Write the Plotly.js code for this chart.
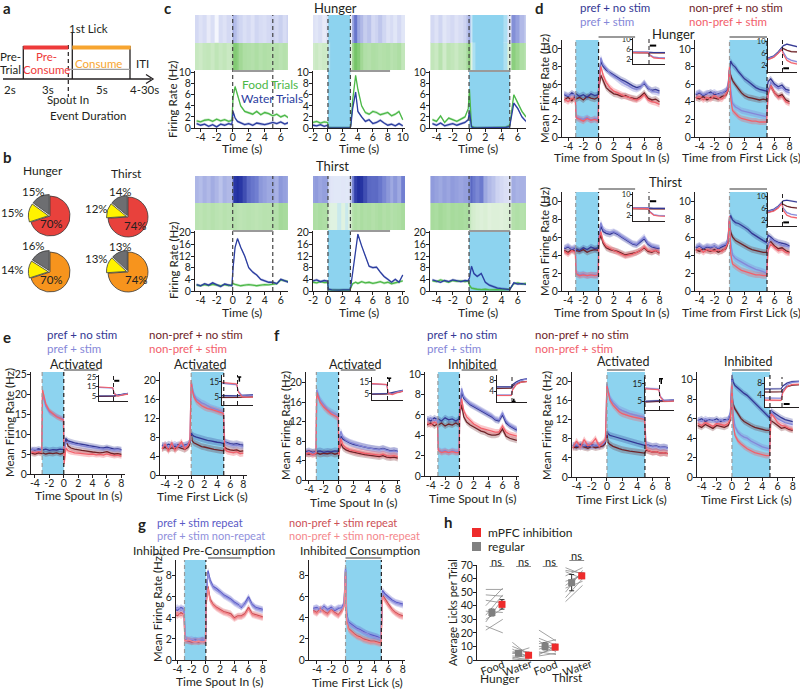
<!DOCTYPE html>
<html>
<head>
<meta charset="utf-8">
<script src="https://cdn.plot.ly/plotly-3.0.1.min.js"></script>
<style>html,body{margin:0;padding:0;background:#fff}#chart{width:800px;height:693px}</style>
</head>
<body>
<div id="chart"></div>
<script>
// ================= DATA =================
// panel b – pies (main / yellow / gray, %)
const pieHungerPre = [70, 15, 15];
const pieThirstPre = [74, 12, 14];
const pieHungerCon = [70, 14, 16];
const pieThirstCon = [74, 13, 13];

// panel c – example neurons (Hz)
const tC  = [-4.5,-4,-3.5,-3,-2.5,-2,-1.5,-1,-0.5,-0.1,0.05,0.3,0.6,1,1.5,2,2.5,3,3.5,4,4.5,5,5.5,6,6.5,7];
const tC2 = [-2,-1.5,-1,-0.5,-0.05,0.05,0.5,1,1.5,2,2.5,2.95,3.05,3.3,3.7,4,4.5,5,5.5,6,6.5,7,7.5,8,8.5,9,9.5,10];
const c1Food  = [1.3,1.1,1.4,1.5,1.2,1.6,1.3,1.5,1.2,1.4,5.5,7.5,6.0,4.0,3.0,2.8,2.5,3.0,2.4,2.8,2.6,2.2,2.5,2.0,2.3,1.8];
const c1Water = [0.8,0.5,0.7,0.3,0.6,0.2,0.7,0.5,0.8,0.6,3.0,1.8,1.2,0.9,0.6,0.8,0.5,0.9,0.7,0.6,0.8,1.0,0.8,1.1,0.7,1.0];
const c2Food  = [1.0,1.2,0.9,1.1,1.0,0.1,0,0,0,0,0,0,0.5,5.0,9.5,7.0,4.0,2.8,2.5,3.0,2.8,2.4,2.6,2.8,2.2,2.5,3.0,1.5];
const c2Water = [0.5,0.4,0.6,0.3,0.5,0,0,0,0,0,0,0,0.3,3.5,6.5,3.0,2.0,1.2,1.5,0.8,1.0,1.4,0.9,0.5,0.7,0.4,0.8,0.4];
const c3Food  = [1.5,1.2,2.2,1.0,1.8,1.5,1.2,1.6,2.0,3.5,7.0,0.3,0.1,0,0,0,0,0,0,0,0.1,0.5,6.0,4.5,3.0,2.0];
const c3Water = [0.8,0.5,0.9,0.4,0.6,0.8,0.5,0.7,1.0,1.5,3.0,0.2,0,0,0,0,0,0,0,0,0.1,0.3,4.5,3.5,2.0,1.2];
const c4Food  = [2.0,1.8,2.2,1.9,2.3,2.0,1.8,2.2,1.9,2.1,2.5,2.3,2.0,1.8,2.0,2.2,2.0,1.8,2.0,2.2,2.1,2.4,2.5,3.8,3.5,3.2];
const c4Water = [2.2,1.8,2.5,2.0,2.8,2.2,1.5,2.4,2.0,1.8,8.0,15.0,18.0,15.0,12.0,8.0,6.5,5.5,4.0,3.5,3.0,3.0,2.5,4.0,3.5,3.0];
const c5Food  = [3.0,2.8,3.2,2.9,3.0,0.5,0.3,0.3,0.2,0.3,0.2,0.3,1.0,2.5,3.0,2.6,3.2,2.8,3.0,2.6,2.9,3.2,2.7,3.0,2.5,2.8,3.0,3.5];
const c5Water = [3.5,3.8,3.2,3.6,3.4,0.6,0.4,0.3,0.3,0.4,0.3,0.4,1.5,6.0,14.0,19.5,15.5,12.0,8.5,8.0,8.2,6.5,5.0,4.0,3.0,4.0,3.0,5.5];
const c6Food  = [3.5,3.2,3.8,3.4,3.0,3.6,3.3,3.5,3.2,3.4,2.0,1.0,0.8,0.6,0.5,0.6,0.4,0.5,0.5,0.4,0.5,0.6,2.5,2.8,2.4,2.6];
const c6Water = [3.8,3.4,3.0,3.6,3.2,3.8,3.5,3.2,3.6,3.5,4.5,8.5,6.0,5.0,6.0,3.0,2.0,1.5,1.0,0.8,0.6,0.5,2.8,2.4,2.5,2.3];

// population means (Hz): time axes
const tSpout = [-4.5,-4,-3.5,-3.05,-2.95,-2.5,-2,-1.5,-1,-0.5,-0.05,0.05,0.3,0.6,1,1.5,2,2.5,3,3.5,4,4.5,5,5.5,6,6.5,7,7.5,8];
const tLick  = [-4.5,-4,-3.5,-3,-2.5,-2,-1.5,-1,-0.5,-0.2,0,0.15,0.4,0.8,1.2,1.6,2,2.5,3,3.5,4,4.5,4.95,5.15,5.5,6,6.5,7,7.5,8];
const tInset = [-1,-0.6,-0.3,-0.05,0.05,0.3,0.6,1];

// panel d – Hunger spout-in
const d1PrefNo   = [4.8,4.6,5.0,4.7,4.9,4.6,4.8,4.5,4.9,4.7,4.8,6.0,8.6,8.0,7.6,7.3,7.0,6.8,6.5,6.3,6.0,5.8,5.6,5.7,6.1,5.5,5.3,5.4,5.2];
const d1PrefStim = [4.9,4.7,4.8,4.8,2.3,2.1,2.0,2.2,1.9,2.1,2.0,6.5,9.0,8.2,7.8,7.2,6.9,6.6,6.2,6.0,5.8,5.5,5.4,5.6,6.2,5.6,5.2,5.1,5.0];
const d1NonNo    = [4.2,4.5,4.1,4.6,4.3,4.5,4.2,4.6,4.4,4.3,4.5,5.5,7.0,6.3,5.6,5.2,4.9,4.8,4.6,4.7,4.5,4.4,4.3,4.6,5.0,4.4,4.2,4.3,4.0];
const d1NonStim  = [4.3,4.0,4.4,4.2,2.2,2.0,1.8,2.1,1.9,2.0,1.8,6.0,8.0,7.0,6.2,5.6,5.2,5.0,4.8,4.6,4.5,4.3,4.2,4.4,4.8,4.2,4.0,3.9,3.7];
// panel d – Hunger first lick
const d2PrefNo   = [4.8,5.0,4.7,4.9,5.1,4.8,4.9,5.0,5.2,5.6,7.5,8.6,8.2,7.9,7.4,7.0,6.6,6.3,5.9,5.6,5.4,5.3,5.2,6.3,6.6,6.0,5.7,5.9,5.4,5.3];
const d2PrefStim = [4.9,5.1,4.8,5.0,4.9,5.1,4.8,5.0,5.3,5.8,7.8,5.5,3.8,3.4,3.2,3.0,2.9,2.8,2.7,2.6,2.5,2.4,2.3,5.0,6.2,5.8,5.5,5.6,5.2,5.0];
const d2NonNo    = [4.5,4.3,4.6,4.2,4.5,4.4,4.3,4.6,4.7,5.2,7.6,7.0,6.4,5.9,5.4,5.0,4.7,4.5,4.4,4.3,4.2,4.3,4.2,5.4,5.8,5.0,4.6,4.8,4.2,4.0];
const d2NonStim  = [4.4,4.6,4.2,4.5,4.3,4.7,4.4,4.3,4.8,5.3,8.0,4.5,3.0,2.6,2.3,2.1,2.0,1.9,1.8,1.8,1.7,1.7,1.7,4.8,5.8,5.0,4.5,4.6,4.0,3.8];
// panel d – Thirst spout-in
const d3PrefNo   = [4.7,4.9,4.6,4.8,4.7,4.5,4.8,4.6,4.9,4.7,4.8,6.0,7.2,6.6,6.4,6.3,6.5,6.3,6.0,5.7,5.5,5.2,5.1,5.4,5.8,5.2,4.9,4.8,4.7];
const d3PrefStim = [4.8,5.0,4.7,4.9,2.0,1.8,1.9,1.7,1.8,1.8,1.7,6.2,7.6,6.9,6.6,6.5,6.6,6.4,6.1,5.8,5.6,5.3,5.2,5.6,6.0,5.3,5.0,4.9,4.8];
const d3NonNo    = [4.5,4.3,4.6,4.4,4.5,4.4,4.6,4.3,4.5,4.6,4.5,5.5,6.2,5.3,4.8,4.6,4.5,4.4,4.2,4.0,4.1,4.2,4.3,4.5,4.8,4.4,4.3,4.5,4.2];
const d3NonStim  = [4.4,4.1,4.5,4.3,1.9,1.7,1.8,1.7,1.8,1.7,1.8,5.8,6.6,5.5,5.0,4.7,4.5,4.3,4.1,3.9,4.0,4.1,4.3,4.5,4.9,4.5,4.4,4.5,4.3];
// panel d – Thirst first lick
const d4PrefNo   = [4.8,5.0,4.7,4.9,4.8,5.0,4.7,4.9,5.1,5.6,8.0,8.4,7.9,7.6,7.5,7.3,7.1,6.8,6.4,6.1,5.8,5.6,5.4,6.2,6.0,5.6,5.4,5.3,5.2,5.0];
const d4PrefStim = [4.9,5.1,4.8,5.0,4.9,5.0,4.8,5.1,5.2,5.8,8.2,5.5,4.0,3.6,3.4,3.2,3.0,2.8,2.6,2.4,2.3,2.1,2.0,5.2,5.8,5.5,5.3,5.1,5.0,4.9];
const d4NonNo    = [4.6,4.4,4.7,4.5,4.4,4.6,4.3,4.5,4.7,5.3,7.8,6.6,6.0,5.6,5.4,5.2,5.0,4.8,4.6,4.5,4.4,4.3,4.3,5.3,5.5,5.0,4.7,4.8,4.5,4.3];
const d4NonStim  = [4.5,4.7,4.3,4.6,4.5,4.4,4.6,4.4,4.8,5.4,8.3,4.2,3.0,2.7,2.5,2.3,2.2,2.0,1.9,1.8,1.8,1.7,1.7,4.6,5.2,4.8,4.5,4.6,4.3,4.2];

// panel e – activated
const e1PrefNo   = [6.2,6.0,6.3,6.1,6.0,6.2,5.9,6.1,6.0,6.2,6.1,7.0,8.8,8.3,8.0,7.8,7.6,7.5,7.3,7.1,7.0,6.8,6.6,6.5,6.7,6.4,6.2,6.3,6.1];
const e1PrefStim = [6.0,6.2,5.8,6.0,20.0,17.0,15.5,15.0,14.5,14.0,13.8,5.5,8.0,7.8,7.6,7.4,7.2,7.0,6.9,6.7,6.6,6.5,6.3,6.2,6.4,6.1,6.0,6.1,5.9];
const e1NonNo    = [5.2,5.0,5.3,5.1,5.3,5.0,5.2,5.1,5.3,5.0,5.2,6.5,8.5,7.0,6.5,6.2,6.0,5.9,5.8,5.6,5.5,5.4,5.3,5.4,5.6,5.2,5.0,5.1,4.9];
const e1NonStim  = [5.5,5.3,5.6,5.4,21.0,17.5,15.8,15.0,14.3,13.9,13.5,2.5,6.5,5.8,5.5,5.3,5.2,5.1,5.0,4.9,5.0,4.8,4.9,4.7,5.0,4.8,4.6,4.7,4.5];
const e2PrefNo   = [6.3,6.0,6.5,6.2,6.0,6.4,6.1,6.3,6.5,7.0,9.0,8.5,8.2,8.0,7.8,7.6,7.5,7.3,7.2,7.0,6.9,6.8,6.6,7.0,6.8,6.6,6.5,6.6,6.4,6.3];
const e2PrefStim = [6.0,6.4,5.9,6.2,6.5,6.0,6.3,6.1,6.4,7.0,19.5,18.5,17.0,16.0,15.5,15.2,15.0,14.6,14.2,14.0,13.8,13.5,13.3,7.0,6.6,6.4,6.2,6.3,6.1,6.0];
const e2NonNo    = [5.6,5.8,5.4,5.7,5.5,5.9,5.6,5.4,5.8,6.5,9.0,7.2,6.8,6.5,6.3,6.0,5.9,5.7,5.5,5.4,5.3,5.2,5.1,5.8,5.5,5.3,5.2,5.3,5.0,5.1];
const e2NonStim  = [5.5,6.5,5.0,6.8,5.2,6.0,7.0,5.5,6.2,7.2,20.0,18.0,16.5,15.5,15.0,14.6,14.3,14.0,13.9,13.7,13.5,13.2,13.0,5.5,5.0,4.8,4.7,4.9,4.5,4.6];

// panel f
const f1PrefNo   = [5.8,6.0,5.7,5.9,5.8,6.0,5.7,5.9,5.8,6.0,5.9,7.0,9.0,8.4,8.0,7.6,7.3,7.1,6.9,6.8,6.6,6.5,6.4,6.3,6.5,6.2,6.0,6.1,5.9];
const f1PrefStim = [5.6,5.8,5.5,5.7,18.5,16.5,15.5,14.5,14.0,13.5,13.2,7.5,10.0,8.8,8.2,7.8,7.5,7.2,7.0,6.8,6.6,6.5,6.3,6.2,6.4,6.1,5.9,6.0,5.8];
const f1NonNo    = [5.5,5.3,5.6,5.4,5.6,5.3,5.5,5.4,5.6,5.3,5.5,6.3,7.5,6.6,6.2,5.9,5.7,5.5,5.3,5.2,5.1,5.0,4.9,4.8,5.0,4.7,4.6,4.7,4.5];
const f1NonStim  = [5.4,5.6,5.2,5.5,18.0,16.0,15.0,14.2,13.6,13.2,12.8,5.0,8.5,7.2,6.6,6.2,6.0,5.8,5.7,5.5,5.4,5.3,5.2,5.1,5.3,5.0,4.9,5.0,4.8];
const f2PrefNo   = [5.6,5.4,5.7,5.5,5.6,5.4,5.7,5.5,5.6,5.4,5.6,6.5,8.2,7.6,7.3,7.0,6.8,6.6,6.4,6.2,6.0,5.8,5.5,5.4,6.0,5.2,4.9,4.7,4.5];
const f2PrefStim = [5.5,5.7,5.4,5.6,2.6,2.4,2.5,2.3,2.5,2.4,2.4,6.8,8.6,7.8,7.4,7.1,6.9,6.7,6.5,6.3,6.1,5.9,5.6,5.5,6.2,5.4,5.0,4.8,4.6];
const f2NonNo    = [5.0,5.2,4.9,5.1,5.0,5.2,4.9,5.1,5.0,5.2,5.0,6.0,7.0,5.8,5.3,5.0,4.8,4.6,4.4,4.3,4.1,4.0,4.0,4.1,4.6,3.9,3.7,3.6,3.5];
const f2NonStim  = [5.2,5.0,5.3,5.1,2.5,2.3,2.4,2.3,2.4,2.3,2.3,6.3,7.6,6.4,5.8,5.4,5.1,4.9,4.7,4.6,4.5,4.4,4.3,4.3,4.9,4.3,4.1,4.0,3.9];
const f3PrefNo   = [6.6,6.4,6.8,6.5,6.3,6.7,6.5,6.6,6.8,7.4,9.5,9.0,8.7,8.5,8.3,8.1,7.9,7.6,7.4,7.2,7.0,6.8,6.6,6.8,6.6,6.4,6.5,6.2,6.3,6.1];
const f3PrefStim = [6.5,6.8,6.3,6.6,6.9,6.4,6.7,6.5,6.9,7.5,19.5,18.0,16.5,15.5,14.8,14.2,13.9,13.5,13.2,13.0,12.8,12.6,12.4,6.8,6.5,6.3,6.4,6.1,6.2,6.0];
const f3NonNo    = [6.3,6.1,6.5,6.2,6.0,6.4,6.1,6.3,6.5,7.0,9.0,7.2,6.8,6.4,6.1,5.9,5.7,5.5,5.4,5.3,5.2,5.1,5.0,5.6,5.4,5.2,5.3,5.0,5.1,4.9];
const f3NonStim  = [6.0,7.5,6.2,7.8,6.5,7.0,8.0,6.4,7.2,7.8,19.0,17.5,16.0,15.0,14.2,13.6,13.2,12.9,12.7,12.5,12.4,12.2,12.0,5.8,5.5,5.2,5.3,5.0,5.1,4.9];
const f4PrefNo   = [5.8,6.0,5.7,5.9,5.8,6.0,5.7,5.9,5.9,6.5,10.5,9.8,9.4,9.1,8.8,8.6,8.4,8.0,7.6,7.2,6.8,6.4,6.1,6.8,6.6,6.3,6.1,5.9,5.8,5.7];
const f4PrefStim = [5.9,5.7,6.0,5.8,5.9,5.6,5.9,5.7,6.0,6.6,10.0,6.5,5.2,4.6,4.3,4.1,4.0,3.7,3.5,3.3,3.1,3.0,2.9,6.8,6.4,6.0,5.8,5.6,5.5,5.4];
const f4NonNo    = [5.3,5.1,5.4,5.2,5.0,5.3,5.2,5.1,5.3,5.9,8.5,7.5,7.0,6.5,6.0,5.7,5.5,5.3,5.1,5.0,4.9,4.8,4.8,5.8,5.6,5.3,5.0,5.1,4.9,4.8];
const f4NonStim  = [5.5,5.3,5.6,5.4,5.2,5.5,5.4,5.3,5.5,6.0,9.5,5.5,4.3,3.7,3.4,3.1,2.9,2.7,2.5,2.4,2.3,2.2,2.2,6.5,6.2,5.6,5.3,5.2,5.0,4.9];

// panel g
const g1PrefRep = [4.9,4.7,5.0,4.8,2.0,1.9,1.8,1.9,1.8,1.9,1.8,6.0,8.5,7.6,7.0,6.8,6.5,6.2,6.0,5.8,5.5,5.3,5.0,5.4,6.0,5.3,5.0,4.9,4.8];
const g1PrefNon = [4.8,5.0,4.7,4.9,2.1,1.9,2.0,1.8,1.9,1.9,1.9,6.2,8.2,7.4,6.9,6.6,6.4,6.1,5.9,5.7,5.4,5.2,5.1,5.3,5.8,5.2,4.9,4.8,4.7];
const g1NonRep  = [4.4,4.2,4.5,4.3,1.9,1.8,1.7,1.8,1.7,1.9,1.7,5.5,7.0,5.8,5.3,5.0,4.8,4.6,4.5,4.4,4.0,4.2,4.2,4.4,5.0,4.4,4.3,4.2,4.1];
const g1NonNon  = [4.3,4.5,4.2,4.4,1.8,1.9,1.8,1.7,1.8,1.7,1.8,5.3,6.8,5.6,5.2,4.9,4.7,4.5,4.4,4.2,3.9,4.1,4.1,4.3,4.8,4.3,4.2,4.1,4.0];
const g2PrefRep = [4.9,5.0,4.7,5.1,4.8,5.0,4.7,4.9,5.0,5.4,8.8,4.5,3.6,3.4,3.2,3.0,2.9,2.7,2.5,2.4,2.3,2.2,2.0,6.6,6.3,6.0,5.7,5.5,5.4,5.3];
const g2PrefNon = [4.8,4.9,4.8,5.0,4.7,4.9,4.8,5.0,4.9,5.3,8.6,4.3,3.5,3.3,3.1,2.9,2.8,2.6,2.5,2.3,2.2,2.1,2.0,6.4,6.1,5.8,5.6,5.4,5.3,5.2];
const g2NonRep  = [4.7,4.5,4.9,4.6,4.4,4.8,4.5,4.3,4.7,5.2,8.5,3.8,3.0,2.7,2.5,2.3,2.2,2.0,1.9,1.8,1.8,1.7,1.6,6.2,5.8,5.3,4.8,4.5,4.3,4.2];
const g2NonNon  = [4.6,4.4,4.8,4.5,4.3,4.7,4.4,4.2,4.6,5.1,8.3,3.6,2.9,2.6,2.4,2.2,2.1,1.9,1.8,1.7,1.7,1.6,1.5,6.0,5.6,5.1,4.7,4.4,4.2,4.1];

// insets [prefNo, prefStim, nonNo, nonStim]
const insD1 = [[4.8,4.9,4.8,4.9,4.8,4.7,4.8,4.7],[4.9,4.8,4.9,4.8,3.8,2.8,2.6,2.5],[4.6,4.5,4.6,4.5,4.6,4.5,4.6,4.5],[4.7,4.6,4.7,4.6,3.5,2.5,2.3,2.2]];
const insD2 = [[4.5,5.2,6.5,7.8,8.5,9.0,8.6,8.2],[4.3,5.0,6.3,7.6,6.5,4.5,3.8,3.3],[4.2,4.9,6.2,7.5,7.6,7.0,6.6,6.5],[4.0,4.8,6.0,7.3,5.8,3.8,3.0,2.6]];
const insD3 = [[4.9,5.0,4.9,5.0,4.9,4.8,4.9,4.8],[5.0,4.9,5.0,4.9,3.6,2.4,2.1,2.0],[4.7,4.6,4.7,4.6,4.7,4.6,4.7,4.6],[4.8,4.7,4.8,4.7,3.4,2.2,1.9,1.8]];
const insD4 = [[5.0,5.6,6.6,8.0,8.4,8.6,8.3,8.0],[4.8,5.4,6.4,7.8,6.0,4.5,3.9,3.6],[4.6,5.2,6.2,7.6,7.2,6.6,6.2,6.0],[4.5,5.0,6.0,7.5,5.2,3.6,3.0,2.7]];
const insE1 = [[5.2,5.0,5.3,5.1,5.4,6.2,7.2,8.0],[14.0,13.8,13.6,13.5,8.0,5.5,6.8,7.8],[4.8,4.7,4.9,4.8,5.0,5.8,6.8,7.4],[14.5,14.2,14.0,13.8,7.5,5.0,6.2,7.2]];
const insE2 = [[6.0,5.8,6.0,5.9,6.1,6.2,6.3,6.5],[14.0,13.6,13.3,13.0,9.0,6.0,5.8,6.0],[4.8,4.7,4.9,4.8,4.9,5.0,5.2,5.3],[14.5,14.2,13.8,13.5,8.5,5.2,5.0,5.1]];
const insF1 = [[5.0,5.1,5.0,5.2,5.4,6.2,7.2,8.0],[13.2,13.0,12.8,12.6,6.0,5.0,6.5,7.8],[4.8,4.9,4.8,4.9,5.0,5.6,6.5,7.2],[13.5,13.2,13.0,12.8,5.5,4.5,6.0,7.2]];
const insF2 = [[5.6,5.5,5.6,5.6,6.5,7.5,8.2,8.6],[2.6,2.5,2.6,2.6,5.0,7.0,8.0,8.5],[5.0,5.1,5.0,5.1,6.0,6.8,7.4,7.6],[2.4,2.3,2.4,2.4,4.6,6.5,7.3,7.6]];
const insF3 = [[5.0,5.1,5.0,5.1,5.2,5.4,5.6,5.8],[12.6,12.4,12.2,12.0,8.0,5.6,5.5,5.8],[4.6,4.7,4.6,4.7,4.8,5.0,5.1,5.3],[12.2,12.0,11.9,11.7,7.5,5.0,5.0,5.2]];
const insF4 = [[6.0,6.1,6.0,6.1,7.0,8.0,8.5,8.6],[3.0,2.9,3.0,2.9,5.5,7.5,8.2,8.4],[5.0,5.1,5.0,5.1,5.8,6.8,7.3,7.4],[2.3,2.2,2.3,2.2,4.8,6.8,7.5,7.6]];

// panel h – licks per trial
const hCats = ['Food','Water','Food','Water'];
const hRegMean = [35, 5, 10, 57];
const hRegSem  = [2.5, 1.5, 2.5, 6];
const hInhMean = [41, 3.5, 9.5, 62];
const hInhSem  = [3.5, 1, 2, 2];
const hRegMice = [[22,25,28,30,33,36,40,44,48,52],[0,1,2,3,5,6,8,10,13,5],[3,5,6,8,10,12,14,16,22,4],[43,46,50,53,55,58,62,65,68,66]];
const hInhMice = [[30,20,45,38,48,35,53,42,47,52],[1,4,0,2,3,6,2,5,3,9],[5,8,4,12,9,15,6,11,14,10],[55,60,66,58,64,62,68,60,63,64]];

// ================= HELPERS =================
const W=800,H=693;
const fx=p=>p/W, fy=p=>1-p/H;
const traces=[], shapes=[], annotations=[];
const INK='#231f20', BLUE='#8dd3ef', GRAYBAR='#9a9a9a';
const NAVY='#343894', LAV='#8587d8', MAR='#6e2328', PINK='#f2606b';
const NAVYb='rgba(52,56,148,0.28)', LAVb='rgba(133,135,216,0.35)', MARb='rgba(110,35,40,0.28)', PINKb='rgba(242,96,107,0.35)';
const GREEN='#4cb848', WBLUE='#2b3da0';
const FONT='Lato, "Open Sans", sans-serif';
const layout={width:W,height:H,margin:{l:0,r:0,t:0,b:0,pad:0},showlegend:false,hovermode:false,
  paper_bgcolor:'#ffffff',plot_bgcolor:'rgba(0,0,0,0)',
  font:{family:FONT,size:11,color:INK},shapes,annotations};
let nAx=0;
function axes(rect,xr,yr,o){
  o=o||{}; nAx++; const s=nAx===1?'':String(nAx);
  const base={showgrid:false,zeroline:false,showline:true,linecolor:INK,linewidth:1,ticks:'outside',tickangle:0,
    ticklen:o.tl||3,tickwidth:1,tickcolor:INK,tickfont:{size:o.fs||10.5,color:INK,family:FONT},fixedrange:true,tickmode:'array'};
  const xt=o.xt||[], yt=o.yt||[];
  const xa=Object.assign({},base,{domain:[fx(rect[0]),fx(rect[2])],range:xr,anchor:'y'+s,tickvals:xt,ticktext:xt.map(String),
    showticklabels:o.xl!==false,ticklabelstandoff:-4},o.xo||{});
  const ya=Object.assign({},base,{domain:[fy(rect[3]),fy(rect[1])],range:yr,anchor:'x'+s,tickvals:yt,ticktext:yt.map(String),
    showticklabels:o.yl!==false,ticklabelstandoff:-2},o.yo||{});
  if(o.hide){xa.visible=false;ya.visible=false;}
  layout['xaxis'+s]=xa; layout['yaxis'+s]=ya;
  return {x:'x'+s,y:'y'+s,rect,xr,yr};
}
function txt(s,px,py,o){
  o=o||{};
  annotations.push(Object.assign({text:s,xref:'paper',yref:'paper',x:fx(px),y:fy(py),xanchor:'center',yanchor:'middle',
    showarrow:false,font:{size:o.size||12,color:o.color||INK,family:FONT}},o.extra||{}));
}
function region(ax,x0,x1,pt,pb){shapes.push({type:'rect',layer:'below',xref:ax.x,yref:'paper',x0,x1,y0:fy(pb),y1:fy(pt),fillcolor:BLUE,line:{width:0}});}
function vdash(ax,xv,pt,pb,col,w){shapes.push({type:'line',xref:ax.x,yref:'paper',x0:xv,x1:xv,y0:fy(pb),y1:fy(pt),line:{color:col||INK,width:w||1.2,dash:'4px,3px'}});}
function hbar(ax,x0,x1,py,col,w){shapes.push({type:'line',xref:ax.x,yref:'paper',x0,x1,y0:fy(py),y1:fy(py),line:{color:col||GRAYBAR,width:w||2}});}
function pline(x0,y0,x1,y1,col,w,dash){shapes.push({type:'line',xref:'paper',yref:'paper',x0:fx(x0),x1:fx(x1),y0:fy(y0),y1:fy(y1),line:{color:col,width:w,dash:dash||'solid'}});}
function band(ax,t,v,fill,sem){
  const up=v.map(a=>a+sem), lo=v.map(a=>Math.max(0,a-sem));
  traces.push({type:'scatter',mode:'lines',x:t.concat(t.slice().reverse()),y:up.concat(lo.slice().reverse()),
    fill:'toself',fillcolor:fill,line:{width:0},xaxis:ax.x,yaxis:ax.y,hoverinfo:'skip'});
}
function line(ax,t,v,col,w){traces.push({type:'scatter',mode:'lines',x:t,y:v,line:{color:col,width:w||1.3},xaxis:ax.x,yaxis:ax.y,hoverinfo:'skip'});}
// S = [prefNo, prefStim, nonNo, nonStim]
function four(ax,t,S,sem,w,cols,bands){
  cols=cols||[NAVY,LAV,MAR,PINK]; bands=bands||[NAVYb,LAVb,MARb,PINKb];
  const order=[2,0,1,3];
  order.forEach(i=>band(ax,t,S[i],bands[i],sem));
  order.forEach(i=>line(ax,t,S[i],cols[i],w));
}
function inset(rect,yr,yt,S,sem,fs){
  const a=axes(rect,[-1,1],yr,{yt,xl:false,fs:fs||8.5,tl:2});
  traces.push({type:'scatter',mode:'lines',x:[-1,1,1,-1],y:[yr[0],yr[0],yr[1],yr[1]],fill:'toself',fillcolor:'#ffffff',line:{width:0},xaxis:a.x,yaxis:a.y,hoverinfo:'skip'});
  vdash(a,0,rect[1],rect[3],INK,1);
  four(a,tInset,S,sem,1.1);
  return a;
}
function tmark(a,xv,y0,y1,cap){
  shapes.push({type:'line',xref:a.x,yref:a.y,x0:xv,x1:xv,y0,y1,line:{color:'#000',width:1.5}});
  shapes.push({type:'line',xref:a.x,yref:a.y,x0:xv-0.12,x1:xv+0.12,y0:cap,y1:cap,line:{color:'#000',width:1.5}});
}
function hmark(a,x0,x1,yv){shapes.push({type:'line',xref:a.x,yref:a.y,x0,x1,y0:yv,y1:yv,line:{color:'#000',width:2}});}

// ================= PANEL a =================
pline(3,79,151,79,INK,1.3);
shapes.push({type:'path',xref:'paper',yref:'paper',path:`M ${fx(146)},${fy(74.5)} L ${fx(153)},${fy(79)} L ${fx(146)},${fy(83.5)}`,line:{color:INK,width:1.3}});
pline(23.3,46,23.3,79,INK,1.3);
pline(130,46,130,79,INK,1.3);
pline(72.3,32,72.3,79,INK,1.3);
pline(68.3,45,68.3,97,INK,1.2,'4px,3px');
pline(23.3,47.5,68.3,47.5,'#ee3a3a',4);
pline(72.3,47.5,130.7,47.5,'#f7a530',4);
pline(68.3,69.3,130,69.3,'#a0a0a0',1.3);
txt('Pre-',10,57,{size:11.5}); txt('Trial',10,70,{size:11.5});
txt('Pre-',46.7,57,{size:11.5,color:'#ee3a3a'}); txt('Consume',46.7,70,{size:11.5,color:'#ee3a3a'});
txt('Consume',98.3,63,{size:11.5,color:'#f7a530'});
txt('ITI',142.7,63,{size:11.5});
txt('1st Lick',88,29,{size:11.5});
txt('2s',10,89,{size:11.5}); txt('3s',48,89,{size:11.5}); txt('5s',101.7,89,{size:11.5}); txt('4-30s',144,89,{size:11.5});
txt('Spout In',68.3,100,{size:11.5});
txt('Event Duration',88.3,115,{size:11.5});

// ================= PANEL b =================
const pieCols1=['#e8413c','#fff200','#6d6e71'], pieCols2=['#f7941d','#fff200','#6d6e71'];
function pie(vals,cols,cx,cy,r,labPos){
  const h=r*1.08;
  traces.push({type:'pie',values:vals,marker:{colors:cols,line:{color:'#3a3a3a',width:0.8}},sort:false,direction:'clockwise',rotation:0,
    pull:[0,0.08,0.08],textinfo:'none',hoverinfo:'skip',domain:{x:[fx(cx-h),fx(cx+h)],y:[fy(cy+h),fy(cy-h)]}});
  vals.forEach((v,i)=>txt(v+'%',labPos[i][0],labPos[i][1],{size:11.5}));
}
txt('Hunger',43.3,171,{size:12}); txt('Thirst',126.7,173,{size:12});
pie(pieHungerPre,pieCols1,50,216,20,[[51.7,223.3],[12.7,213],[33,191.7]]);
pie(pieThirstPre,pieCols1,128,217,20,[[135,225],[96.7,208.3],[120,191.7]]);
pie(pieHungerCon,pieCols2,50,272,20,[[51.7,280],[12.7,269.3],[33.3,246]]);
pie(pieThirstCon,pieCols2,128,272,20,[[136.7,280],[96.7,258.3],[120,246.7]]);

// ================= PANEL c =================
const rasterBlue=[[0,'rgba(255,255,255,0)'],[0.02,'rgba(228,232,248,1)'],[0.1,'rgba(184,192,234,1)'],[0.35,'rgba(111,125,208,1)'],[1,'rgba(34,48,160,1)']];
const rasterGreen=[[0,'rgba(255,255,255,0)'],[0.02,'rgba(226,242,222,1)'],[0.1,'rgba(191,229,183,1)'],[0.35,'rgba(142,208,128,1)'],[1,'rgba(76,175,64,1)']];
function cPanel(l,r,rows,xr,xt,yr,yt,t,food,water,stim,ev,bar,sem){
  const ra=axes([l,rows[0],r,rows[1]],xr,[0,2],{hide:true});
  const pa=axes([l,rows[1]+1,r,rows[2]],xr,yr,{xt,yt});
  traces.push({type:'heatmap',x:t,y:[0.5],z:[food],xaxis:ra.x,yaxis:ra.y,colorscale:rasterGreen,zmin:0,zmax:16,showscale:false,hoverinfo:'skip'});
  traces.push({type:'heatmap',x:t,y:[1.5],z:[water],xaxis:ra.x,yaxis:ra.y,colorscale:rasterBlue,zmin:0,zmax:16,showscale:false,hoverinfo:'skip'});
  if(stim) region(pa,stim[0],stim[1],rows[0],rows[2]);
  ev.forEach(e=>vdash(pa,e,rows[0],rows[2],'#444',1.2));
  hbar(pa,bar[0],bar[1],rows[1]+1,GRAYBAR,2);
  band(pa,t,food,'rgba(76,184,72,0.3)',sem); band(pa,t,water,'rgba(43,61,160,0.3)',sem);
  line(pa,t,food,GREEN,1.3); line(pa,t,water,WBLUE,1.3);
  txt('Time (s)',(l+r)/2,rows[2]+21,{size:12});
  return pa;
}
const cTop=[15,70,128], cBot=[176,230,291];
const colA=[195,288,[-4.7,6.9],[-4,-2,0,2,4,6]];
const colB=[313,405,[-2,10.3],[-2,0,2,4,6,8,10]];
const colC=[430,526,[-4.8,7],[-4,-2,0,2,4,6]];
const yTop=[0,10.3], ytTop=[0,2,4,6,8,10], yBot=[0,20.6], ytBot=[0,4,8,12,16,20];
cPanel(colA[0],colA[1],cTop,colA[2],colA[3],yTop,ytTop,tC,c1Food,c1Water,null,[0,5],[0,5],0.25);
cPanel(colB[0],colB[1],cTop,colB[2],colB[3],yTop,ytTop,tC2,c2Food,c2Water,[0,3],[0,3],[3,8.3],0.25);
cPanel(colC[0],colC[1],cTop,colC[2],colC[3],yTop,ytTop,tC,c3Food,c3Water,[0,5],[0,5],[0,5],0.25);
cPanel(colA[0],colA[1],cBot,colA[2],colA[3],yBot,ytBot,tC,c4Food,c4Water,null,[0,5],[0,5],0.45);
cPanel(colB[0],colB[1],cBot,colB[2],colB[3],yBot,ytBot,tC2,c5Food,c5Water,[0,3],[0,3],[3,8.3],0.45);
cPanel(colC[0],colC[1],cBot,colC[2],colC[3],yBot,ytBot,tC,c6Food,c6Water,[0,5],[0,5],[0,5],0.45);
txt('Hunger',335,8,{size:13}); txt('Thirst',332,166,{size:13});
txt('Firing Rate (Hz)',173,100,{size:11.5,extra:{textangle:-90}});
txt('Firing Rate (Hz)',173,261,{size:11.5,extra:{textangle:-90}});
txt('Food Trials',270,84,{size:12,color:GREEN});
txt('Water Trials',272,99,{size:12,color:WBLUE});

// ================= generic population panel =================
function pop(rect,xr,yr,yt,t,S,sem,kind,bar,cols,bands){
  const a=axes(rect,xr,yr,{xt:[-4,-2,0,2,4,6,8],yt});
  if(kind==='spout'){region(a,-3,0,rect[1],rect[3]); vdash(a,-3,rect[1],rect[3],'#9a9a9a',1.2); vdash(a,0,rect[1],rect[3],INK,1.2);}
  else {region(a,0,5,rect[1],rect[3]); vdash(a,0,rect[1],rect[3],'#9a9a9a',1.2); vdash(a,5,rect[1],rect[3],INK,1.2);}
  four(a,t,S,sem,1.3,cols,bands);
  if(bar) hbar(a,bar[0],bar[1],bar[2],GRAYBAR,2);
  return a;
}
function legend4(xl,xr,y1,y2,size){
  txt('pref + no stim',xl,y1,{size,color:NAVY,extra:{xanchor:'left'}});
  txt('pref + stim',xl,y2,{size,color:LAV,extra:{xanchor:'left'}});
  txt('non-pref + no stim',xr,y1,{size,color:MAR,extra:{xanchor:'left'}});
  txt('non-pref + stim',xr,y2,{size,color:PINK,extra:{xanchor:'left'}});
}

// ================= PANEL d =================
const yt10=[0,2,4,6,8,10];
pop([562,40,661,137],[-4.8,8.2],[0,11],yt10,tSpout,[d1PrefNo,d1PrefStim,d1NonNo,d1NonStim],0.35,'spout',[0,4.8,37]);
pop([695,40,791,137],[-4.6,8.2],[0,11],yt10,tLick,[d2PrefNo,d2PrefStim,d2NonNo,d2NonStim],0.35,'lick',[0,5,37]);
pop([562,192,661,291],[-4.8,8.2],[0,11],yt10,tSpout,[d3PrefNo,d3PrefStim,d3NonNo,d3NonStim],0.35,'spout',[0,4.8,189]);
pop([695,192,791,291],[-4.6,8.2],[0,11],yt10,tLick,[d4PrefNo,d4PrefStim,d4NonNo,d4NonStim],0.35,'lick',[0,5,189]);
let ia;
ia=inset([633,37,665,64],[0,11],[2,6,10],insD1,0.3,7.5); hmark(ia,0.05,0.45,7.5);
ia=inset([768,38,797,72],[0,11],[2,6,10],insD2,0.3,7.5); hmark(ia,0.05,0.45,1.2);
ia=inset([633,192,665,221],[0,11],[2,6,10],insD3,0.3,7.5); hmark(ia,0.05,0.45,7.5);
ia=inset([768,193,797,226],[0,11],[2,6,10],insD4,0.3,7.5); hmark(ia,0.05,0.45,1.2);
legend4(578,687,7.5,21.5,11.5);
txt('Hunger',673,34,{size:13}); txt('Thirst',665,182,{size:13});
txt('Mean Firing Rate (Hz)',544,89,{size:11.5,extra:{textangle:-90}});
txt('Mean Firing Rate (Hz)',544,242,{size:11.5,extra:{textangle:-90}});
txt('Time from Spout In (s)',611,158,{size:12}); txt('Time from First Lick (s)',741,158,{size:12});
txt('Time from Spout In (s)',611,312,{size:12}); txt('Time from First Lick (s)',741,312,{size:12});

// ================= PANEL e =================
pop([31,372,125,474],[-4.55,8.5],[0,25.5],[0,5,10,15,20,25],tSpout,[e1PrefNo,e1PrefStim,e1NonNo,e1NonStim],0.7,'spout',[0,4.8,370]);
pop([160,372,246.5,475],[-4.8,8.5],[0,21.7],[0,4,8,12,16,20],tLick,[e2PrefNo,e2PrefStim,e2NonNo,e2NonStim],0.7,'lick',[0,5,370]);
ia=inset([99,375,128,401],[0,27],[5,15,25],insE1,0.6,8); hmark(ia,0.05,0.4,21);
ia=inset([222,375,253,405],[0,19.3],[5,15],insE2,0.6); tmark(ia,0.12,15,18,18);
legend4(45,146.7,334.5,348.5,11.5);
txt('Activated',76,364,{size:12.5}); txt('Activated',200,364,{size:12.5});
txt('Mean Firing Rate (Hz)',9,423,{size:11.5,extra:{textangle:-90}});
txt('Time Spout In (s)',78,495,{size:12}); txt('Time First Lick (s)',203,496,{size:12});

// ================= PANEL f =================
pop([306,372,400,480],[-4.4,8.3],[0,22.2],[0,4,8,12,16,20],tSpout,[f1PrefNo,f1PrefStim,f1NonNo,f1NonStim],0.7,'spout',[0.3,5,370]);
pop([425,372,519,476],[-4.8,8.3],[0,10.2],yt10,tSpout,[f2PrefNo,f2PrefStim,f2NonNo,f2NonStim],0.3,'spout',[0.3,5.3,370]);
pop([572,372,670,477],[-4.6,8.3],[0,21.9],[0,4,8,12,16,20],tLick,[f3PrefNo,f3PrefStim,f3NonNo,f3NonStim],0.7,'lick',[0,5,370]);
pop([697,372,795,477],[-4.6,8.3],[0,10.8],yt10,tLick,[f4PrefNo,f4PrefStim,f4NonNo,f4NonStim],0.3,'lick',[0,5,370]);
ia=inset([372,377,403,400],[0,19],[5,15],insF1,0.6); tmark(ia,0.12,15,18,18);
ia=inset([497,375,527,402],[0,10],[4,8],insF2,0.3); tmark(ia,0.12,1.2,0.2,0.2);
ia=inset([645,377,674,410],[0,19],[5,15],insF3,0.6); tmark(ia,0.12,15,18,18);
ia=inset([765,377,799,407],[0,10],[4,8],insF4,0.3); hmark(ia,0.1,0.45,1.0);
legend4(425,533,334.5,348.5,11.5);
txt('Activated',355,364,{size:12.5}); txt('Inhibited',472,364,{size:12.5});
txt('Activated',623,361,{size:12.5}); txt('Inhibited',748,361,{size:12.5});
txt('Mean Firing Rate (Hz)',286,426,{size:11.5,extra:{textangle:-90}});
txt('Mean Firing Rate (Hz)',547,426,{size:11.5,extra:{textangle:-90}});
txt('Time Spout In (s)',353,502,{size:12}); txt('Time Spout In (s)',472,498,{size:12});
txt('Time First Lick (s)',621,499,{size:12}); txt('Time First Lick (s)',746,499,{size:12});

// ================= PANEL g =================
const GREP='#5a5ac6', GNON='#8f90dc', RREP='#cc4f55', RNON='#f4878c';
const gBands=['rgba(90,90,198,0.3)','rgba(143,144,220,0.35)','rgba(204,79,85,0.3)','rgba(244,135,140,0.35)'];
pop([176,560,267,660],[-4.2,8.6],[0,9.5],[0,2,4,6,8],tSpout,[g1PrefRep,g1PrefNon,g1NonRep,g1NonNon],0.3,'spout',[0.3,5,558],[GREP,GNON,RREP,RNON],gBands);
pop([309,560,405,660],[-5.1,8.3],[0,9.5],[0,2,4,6,8],tLick,[g2PrefRep,g2PrefNon,g2NonRep,g2NonNon],0.3,'lick',[0,5,558],[GREP,GNON,RREP,RNON],gBands);
txt('pref + stim repeat',155,522,{size:11,color:GREP,extra:{xanchor:'left'}});
txt('pref + stim non-repeat',155,535.5,{size:11,color:GNON,extra:{xanchor:'left'}});
txt('non-pref + stim repeat',287,522,{size:11,color:RREP,extra:{xanchor:'left'}});
txt('non-pref + stim non-repeat',287,535.5,{size:11,color:RNON,extra:{xanchor:'left'}});
txt('Inhibited Pre-Consumption',204,550.5,{size:12}); txt('Inhibited Consumption',360,550.5,{size:12});
txt('Mean Firing Rate (Hz)',157,608,{size:11.5,extra:{textangle:-90}});
txt('Time Spout In (s)',219,681,{size:12}); txt('Time First Lick (s)',357,682,{size:12});

// ================= PANEL h =================
const ha=axes([477,565,590,660],[0.25,4.5],[0,70],{xt:[1,2,3,4],xl:false,yt:[0,10,20,30,40,50,60,70],
  xo:{ticks:''}});
const hLabOff=[-0.19,-0.25,-0.19,0];
hCats.forEach((c,g)=>{
  const xs=[], ys=[];
  hRegMice[g].forEach((v,i)=>{xs.push(g+1-0.42,g+1+0.22,null); ys.push(v,hInhMice[g][i],null);});
  traces.push({type:'scatter',mode:'lines',x:xs,y:ys,line:{color:'#8a8a8a',width:0.8},xaxis:ha.x,yaxis:ha.y,hoverinfo:'skip'});
  annotations.push({text:c,xref:ha.x,yref:'paper',x:g+1+hLabOff[g],y:fy(667),showarrow:false,textangle:-20,font:{size:11,color:INK,family:FONT},xanchor:'center',yanchor:'middle'});
});
traces.push({type:'scatter',mode:'markers',x:hRegMean.map((v,i)=>i+1-0.19),y:hRegMean,
  marker:{symbol:'square',size:7,color:'#808080'},error_y:{type:'data',array:hRegSem,color:'#333',thickness:1,width:2.5},xaxis:ha.x,yaxis:ha.y,hoverinfo:'skip'});
traces.push({type:'scatter',mode:'markers',x:hInhMean.map((v,i)=>i+1+0.19),y:hInhMean,
  marker:{symbol:'square',size:7,color:'#ee2b2b'},error_y:{type:'data',array:hInhSem,color:'#333',thickness:1,width:2.5},xaxis:ha.x,yaxis:ha.y,hoverinfo:'skip'});
[1,2,3,4].forEach(g=>{
  const py=g===4?555:561;
  annotations.push({text:'ns',xref:ha.x,yref:'paper',x:g,y:fy(py),showarrow:false,font:{size:11,color:INK,family:FONT},xanchor:'center',yanchor:'middle'});
  shapes.push({type:'line',xref:ha.x,yref:'paper',x0:g-0.28,x1:g+0.28,y0:fy(py+5.5),y1:fy(py+5.5),line:{color:'#8a8a8a',width:1}});
});
annotations.push({text:'Hunger',xref:ha.x,yref:'paper',x:1.12,y:fy(687.5),showarrow:false,font:{size:12,color:INK,family:FONT}});
annotations.push({text:'Thirst',xref:ha.x,yref:'paper',x:3.67,y:fy(686.5),showarrow:false,font:{size:12,color:INK,family:FONT}});
shapes.push({type:'rect',xref:'paper',yref:'paper',x0:fx(472),x1:fx(481),y0:fy(537),y1:fy(528),fillcolor:'#ee2b2b',line:{width:0}});
shapes.push({type:'rect',xref:'paper',yref:'paper',x0:fx(472),x1:fx(481),y0:fy(551),y1:fy(542),fillcolor:'#808080',line:{width:0}});
txt('mPFC inhibition',486,532.5,{size:12,extra:{xanchor:'left'}});
txt('regular',486,546.5,{size:12,extra:{xanchor:'left'}});
txt('Average Licks per Trial',452,612,{size:11,extra:{textangle:-90}});

// ================= panel letters =================
[['a',7,8],['b',7,157],['c',167,8],['d',539,8],['e',7,337],['f',277,335],['g',142,524],['h',448,522]].forEach(p=>
  txt('<b>'+p[0]+'</b>',p[1],p[2],{size:15}));

Plotly.newPlot('chart',traces,layout,{staticPlot:true,displayModeBar:false});
</script>
</body>
</html>
